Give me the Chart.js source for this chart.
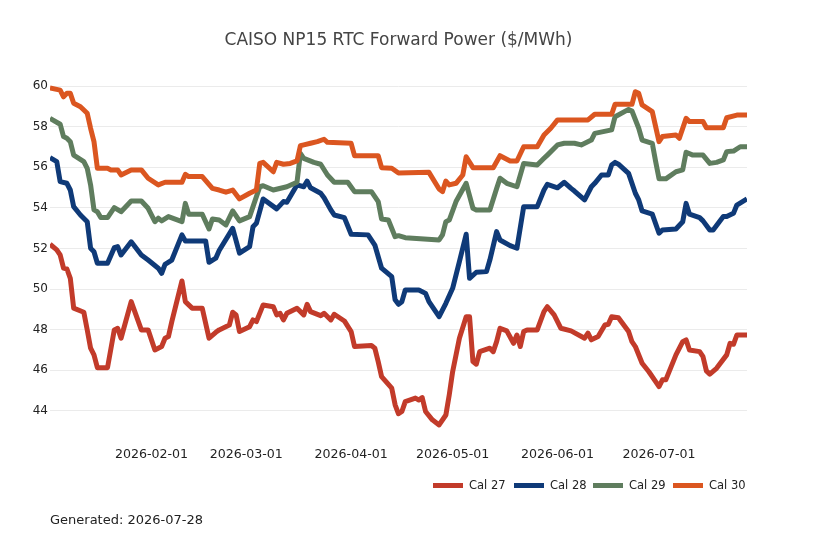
<!DOCTYPE html>
<html>
<head>
<meta charset="utf-8">
<script src="https://cdn.jsdelivr.net/npm/chart.js@4.4.1/dist/chart.umd.min.js"></script>
<style>
  html, body { margin: 0; padding: 0; background: #fff; }
  #wrap { position: relative; width: 818px; height: 545px; font-family: "DejaVu Sans", sans-serif; }
  #c { position: absolute; left: 0; top: 0; }
  #title { position: absolute; left: 50px; width: 697px; top: 29px; text-align: center; font-size: 17px; line-height: 20px; color: #444; white-space: nowrap; }
  #legend { position: absolute; left: 0; top: 478px; width: 818px; height: 14px; font-size: 11.5px; line-height: 14px; color: #222; white-space: nowrap; }
  .sw { position: absolute; top: 5px; width: 30px; height: 5px; }
  .tx { position: absolute; top: 0; }
  #gen { position: absolute; left: 50px; top: 512px; font-size: 13px; line-height: 16px; color: #222; white-space: nowrap; }
</style>
</head>
<body>
<div id="wrap">
  <canvas id="c" width="818" height="545"></canvas>
  <div id="title">CAISO NP15 RTC Forward Power ($/MWh)</div>
  <div id="legend"></div>
  <div id="gen">Generated: 2026-07-28</div>
</div>
<script>
const seriesNames = ['Cal 27', 'Cal 28', 'Cal 29', 'Cal 30'];
const seriesColors = ['#c23b2a', '#0f3a78', '#5f7d5e', '#db5620'];

const cal27Dates = ['2026-01-02','2026-01-04','2026-01-05','2026-01-06','2026-01-07','2026-01-08','2026-01-09','2026-01-12','2026-01-13','2026-01-14','2026-01-15','2026-01-16','2026-01-19','2026-01-21','2026-01-22','2026-01-23','2026-01-26','2026-01-29','2026-01-31','2026-02-02','2026-02-04','2026-02-05','2026-02-06','2026-02-07','2026-02-10','2026-02-11','2026-02-12','2026-02-13','2026-02-16','2026-02-18','2026-02-20','2026-02-21','2026-02-24','2026-02-25','2026-02-26','2026-02-27','2026-03-02','2026-03-03','2026-03-04','2026-03-06','2026-03-09','2026-03-10','2026-03-11','2026-03-12','2026-03-13','2026-03-16','2026-03-18','2026-03-19','2026-03-20','2026-03-23','2026-03-24','2026-03-26','2026-03-27','2026-03-30','2026-04-01','2026-04-02','2026-04-07','2026-04-08','2026-04-09','2026-04-10','2026-04-13','2026-04-14','2026-04-15','2026-04-16','2026-04-17','2026-04-20','2026-04-21','2026-04-22','2026-04-23','2026-04-25','2026-04-27','2026-04-29','2026-04-30','2026-05-01','2026-05-03','2026-05-05','2026-05-06','2026-05-07','2026-05-08','2026-05-09','2026-05-12','2026-05-13','2026-05-14','2026-05-15','2026-05-17','2026-05-19','2026-05-20','2026-05-21','2026-05-22','2026-05-23','2026-05-26','2026-05-28','2026-05-29','2026-05-31','2026-06-02','2026-06-05','2026-06-09','2026-06-10','2026-06-11','2026-06-13','2026-06-15','2026-06-16','2026-06-17','2026-06-19','2026-06-22','2026-06-23','2026-06-24','2026-06-26','2026-06-28','2026-06-30','2026-07-01','2026-07-02','2026-07-03','2026-07-06','2026-07-08','2026-07-09','2026-07-10','2026-07-13','2026-07-14','2026-07-15','2026-07-16','2026-07-18','2026-07-21','2026-07-22','2026-07-23','2026-07-24','2026-07-27'];
const cal27Values = [52.21,51.93,51.68,51.03,50.99,50.53,49.06,48.86,47.99,47.09,46.76,46.13,46.13,47.99,48.07,47.58,49.38,47.99,47.99,47.00,47.17,47.58,47.66,48.40,50.40,49.38,49.22,49.06,49.06,47.58,47.87,47.99,48.23,48.86,48.73,47.91,48.15,48.48,48.40,49.22,49.13,48.73,48.81,48.48,48.81,49.06,48.73,49.25,48.89,48.69,48.81,48.48,48.76,48.43,47.91,47.17,47.22,47.09,46.43,45.69,45.12,44.30,43.86,43.97,44.46,44.63,44.54,44.66,43.97,43.56,43.31,43.80,44.79,45.93,47.58,48.64,48.64,46.43,46.30,46.92,47.09,46.92,47.41,48.07,47.94,47.33,47.74,47.17,47.91,47.99,47.99,48.89,49.13,48.73,48.07,47.94,47.58,47.83,47.50,47.66,48.23,48.27,48.64,48.59,47.91,47.41,47.17,46.35,45.93,45.44,45.20,45.53,45.53,46.76,47.41,47.50,47.00,46.92,46.67,45.97,45.81,46.10,46.76,47.33,47.28,47.74,47.74];

const cal28Dates = ['2026-01-02','2026-01-04','2026-01-05','2026-01-07','2026-01-08','2026-01-09','2026-01-11','2026-01-13','2026-01-14','2026-01-15','2026-01-16','2026-01-19','2026-01-21','2026-01-22','2026-01-23','2026-01-26','2026-01-29','2026-01-31','2026-02-03','2026-02-04','2026-02-05','2026-02-07','2026-02-10','2026-02-11','2026-02-17','2026-02-18','2026-02-20','2026-02-21','2026-02-25','2026-02-27','2026-03-02','2026-03-03','2026-03-04','2026-03-06','2026-03-10','2026-03-12','2026-03-13','2026-03-16','2026-03-18','2026-03-19','2026-03-20','2026-03-23','2026-03-24','2026-03-26','2026-03-27','2026-03-30','2026-04-01','2026-04-06','2026-04-08','2026-04-10','2026-04-13','2026-04-14','2026-04-15','2026-04-16','2026-04-17','2026-04-21','2026-04-23','2026-04-24','2026-04-27','2026-04-29','2026-05-01','2026-05-03','2026-05-05','2026-05-06','2026-05-08','2026-05-11','2026-05-12','2026-05-14','2026-05-15','2026-05-18','2026-05-20','2026-05-22','2026-05-26','2026-05-28','2026-05-29','2026-06-01','2026-06-03','2026-06-05','2026-06-06','2026-06-09','2026-06-11','2026-06-12','2026-06-14','2026-06-16','2026-06-17','2026-06-18','2026-06-19','2026-06-22','2026-06-24','2026-06-25','2026-06-26','2026-06-29','2026-07-01','2026-07-02','2026-07-06','2026-07-08','2026-07-09','2026-07-10','2026-07-13','2026-07-14','2026-07-16','2026-07-17','2026-07-20','2026-07-21','2026-07-23','2026-07-24','2026-07-27'];
const cal28Values = [56.47,56.28,55.29,55.21,54.88,54.06,53.65,53.32,52.01,51.84,51.27,51.27,52.04,52.09,51.68,52.33,51.68,51.43,51.03,50.78,51.22,51.43,52.67,52.37,52.37,51.32,51.52,51.90,52.99,51.77,52.09,53.07,53.24,54.44,53.95,54.31,54.28,55.13,55.04,55.32,54.99,54.72,54.50,53.90,53.65,53.52,52.70,52.67,52.17,51.03,50.61,49.47,49.25,49.38,49.96,49.96,49.79,49.38,48.64,49.30,50.04,51.35,52.70,50.53,50.83,50.86,51.43,52.83,52.42,52.14,52.01,54.06,54.06,54.88,55.16,54.99,55.26,54.96,54.83,54.39,55.04,55.21,55.62,55.62,56.11,56.24,56.15,55.70,54.72,54.39,53.85,53.69,52.75,52.91,52.96,53.32,54.22,53.69,53.52,53.36,52.91,52.91,53.57,53.57,53.73,54.14,54.44];

const cal29Dates = ['2026-01-02','2026-01-05','2026-01-06','2026-01-07','2026-01-08','2026-01-09','2026-01-12','2026-01-13','2026-01-14','2026-01-15','2026-01-16','2026-01-17','2026-01-19','2026-01-21','2026-01-23','2026-01-26','2026-01-29','2026-01-31','2026-02-02','2026-02-03','2026-02-04','2026-02-06','2026-02-10','2026-02-11','2026-02-12','2026-02-16','2026-02-18','2026-02-19','2026-02-21','2026-02-23','2026-02-25','2026-02-27','2026-03-02','2026-03-03','2026-03-05','2026-03-06','2026-03-09','2026-03-13','2026-03-16','2026-03-17','2026-03-18','2026-03-21','2026-03-23','2026-03-25','2026-03-27','2026-03-31','2026-04-02','2026-04-07','2026-04-09','2026-04-10','2026-04-12','2026-04-14','2026-04-15','2026-04-17','2026-04-27','2026-04-28','2026-04-29','2026-04-30','2026-05-02','2026-05-05','2026-05-07','2026-05-08','2026-05-12','2026-05-14','2026-05-15','2026-05-17','2026-05-20','2026-05-22','2026-05-26','2026-05-28','2026-05-29','2026-06-01','2026-06-03','2026-06-06','2026-06-08','2026-06-11','2026-06-12','2026-06-17','2026-06-18','2026-06-22','2026-06-23','2026-06-25','2026-06-26','2026-06-29','2026-06-30','2026-07-01','2026-07-03','2026-07-06','2026-07-08','2026-07-09','2026-07-11','2026-07-14','2026-07-16','2026-07-18','2026-07-20','2026-07-21','2026-07-23','2026-07-25','2026-07-27'];
const cal29Values = [58.41,58.12,57.51,57.43,57.26,56.60,56.28,55.95,55.13,53.90,53.81,53.52,53.52,54.01,53.81,54.34,54.34,53.98,53.32,53.49,53.36,53.57,53.32,54.22,53.69,53.69,52.96,53.45,53.40,53.16,53.85,53.36,53.57,54.06,55.04,55.09,54.88,55.04,55.26,56.68,56.44,56.24,56.15,55.62,55.26,55.26,54.80,54.80,54.31,53.45,53.40,52.58,52.63,52.53,52.42,52.67,53.32,53.40,54.31,55.21,53.98,53.90,53.90,54.96,55.46,55.21,55.04,56.19,56.11,56.44,56.60,57.10,57.18,57.18,57.10,57.34,57.67,57.84,58.49,58.85,58.77,57.92,57.34,57.18,56.28,55.43,55.43,55.78,55.87,56.74,56.60,56.60,56.19,56.24,56.36,56.77,56.80,57.01,57.01];

const cal30Dates = ['2026-01-02','2026-01-05','2026-01-06','2026-01-07','2026-01-08','2026-01-09','2026-01-11','2026-01-13','2026-01-14','2026-01-15','2026-01-16','2026-01-19','2026-01-20','2026-01-22','2026-01-23','2026-01-26','2026-01-29','2026-01-31','2026-02-03','2026-02-05','2026-02-10','2026-02-11','2026-02-12','2026-02-16','2026-02-19','2026-02-21','2026-02-23','2026-02-25','2026-02-27','2026-03-02','2026-03-04','2026-03-05','2026-03-06','2026-03-09','2026-03-10','2026-03-12','2026-03-14','2026-03-16','2026-03-17','2026-03-18','2026-03-20','2026-03-22','2026-03-24','2026-03-25','2026-04-01','2026-04-02','2026-04-09','2026-04-10','2026-04-13','2026-04-15','2026-04-24','2026-04-27','2026-04-28','2026-04-29','2026-04-30','2026-05-02','2026-05-04','2026-05-05','2026-05-07','2026-05-13','2026-05-15','2026-05-18','2026-05-20','2026-05-22','2026-05-26','2026-05-28','2026-05-30','2026-06-01','2026-06-10','2026-06-12','2026-06-17','2026-06-18','2026-06-23','2026-06-24','2026-06-25','2026-06-26','2026-06-29','2026-06-30','2026-07-01','2026-07-02','2026-07-06','2026-07-07','2026-07-09','2026-07-10','2026-07-14','2026-07-15','2026-07-20','2026-07-21','2026-07-24','2026-07-27'];
const cal30Values = [59.90,59.80,59.47,59.64,59.64,59.15,58.98,58.66,57.92,57.26,55.95,55.95,55.87,55.87,55.62,55.87,55.87,55.46,55.13,55.26,55.26,55.65,55.54,55.54,54.96,54.88,54.77,54.88,54.44,54.72,54.88,56.19,56.24,55.78,56.24,56.15,56.19,56.31,57.06,57.10,57.18,57.26,57.38,57.23,57.18,56.57,56.57,55.98,55.95,55.72,55.75,54.93,54.80,55.32,55.13,55.21,55.62,56.52,55.98,55.98,56.57,56.31,56.31,57.01,57.01,57.59,57.92,58.33,58.33,58.61,58.61,59.10,59.10,59.72,59.64,59.07,58.74,58.00,57.26,57.51,57.59,57.43,58.41,58.25,58.25,57.95,57.95,58.44,58.57,58.57];

const xTickDates = ['2026-02-01','2026-03-01','2026-04-01','2026-05-01','2026-06-01','2026-07-01'];
const yTickValues = [44, 46, 48, 50, 52, 54, 56, 58, 60];
const yMin = 42.42, yMax = 60.79;

const toMs = s => Date.parse(s + 'T00:00:00Z');
const fmtDate = ms => new Date(ms).toISOString().slice(0, 10);

const allDates = [cal27Dates, cal28Dates, cal29Dates, cal30Dates];
const allValues = [cal27Values, cal28Values, cal29Values, cal30Values];

const datasets = seriesNames.map((name, k) => ({
  label: name,
  data: allDates[k].map((d, i) => ({ x: toMs(d), y: allValues[k][i] })),
  borderColor: seriesColors[k],
  backgroundColor: seriesColors[k],
  borderWidth: 5,
  pointRadius: 0,
  pointHoverRadius: 0,
  tension: 0,
  fill: false,
  borderJoinStyle: 'round',
  borderCapStyle: 'butt',
  order: 4 - k
}));

const xMin = toMs(cal27Dates[0]);
const xMax = toMs(cal27Dates[cal27Dates.length - 1]);

new Chart(document.getElementById('c'), {
  type: 'line',
  data: { datasets },
  options: {
    responsive: false,
    animation: false,
    devicePixelRatio: 1,
    layout: { padding: { left: 0, right: 71, top: 70, bottom: 0 } },
    plugins: { legend: { display: false }, title: { display: false }, tooltip: { enabled: false } },
    scales: {
      x: {
        type: 'linear',
        min: xMin,
        max: xMax,
        grid: { display: false, drawTicks: false },
        border: { display: false },
        afterBuildTicks: s => { s.ticks = xTickDates.map(d => ({ value: toMs(d) })); },
        afterFit: s => { s.height = 102; },
        ticks: {
          autoSkip: false,
          maxRotation: 0,
          padding: 4,
          color: '#222',
          font: { family: 'DejaVu Sans', size: 12.6 },
          callback: v => fmtDate(v)
        }
      },
      y: {
        type: 'linear',
        min: yMin,
        max: yMax,
        grid: { color: '#ebebeb', lineWidth: 1, drawTicks: false },
        border: { display: false },
        afterBuildTicks: s => { s.ticks = yTickValues.map(v => ({ value: v })); },
        afterFit: s => { s.width = 50; },
        ticks: {
          padding: 2,
          color: '#222',
          font: { family: 'DejaVu Sans', size: 12 },
          callback: v => String(v)
        }
      }
    }
  }
});

const legendLefts = [433, 514, 593, 673];
const legendEl = document.getElementById('legend');
seriesNames.forEach((name, k) => {
  const sw = document.createElement('div');
  sw.className = 'sw';
  sw.style.left = legendLefts[k] + 'px';
  sw.style.background = seriesColors[k];
  const tx = document.createElement('span');
  tx.className = 'tx';
  tx.style.left = (legendLefts[k] + 36) + 'px';
  tx.textContent = name;
  legendEl.appendChild(sw);
  legendEl.appendChild(tx);
});
</script>
</body>
</html>
